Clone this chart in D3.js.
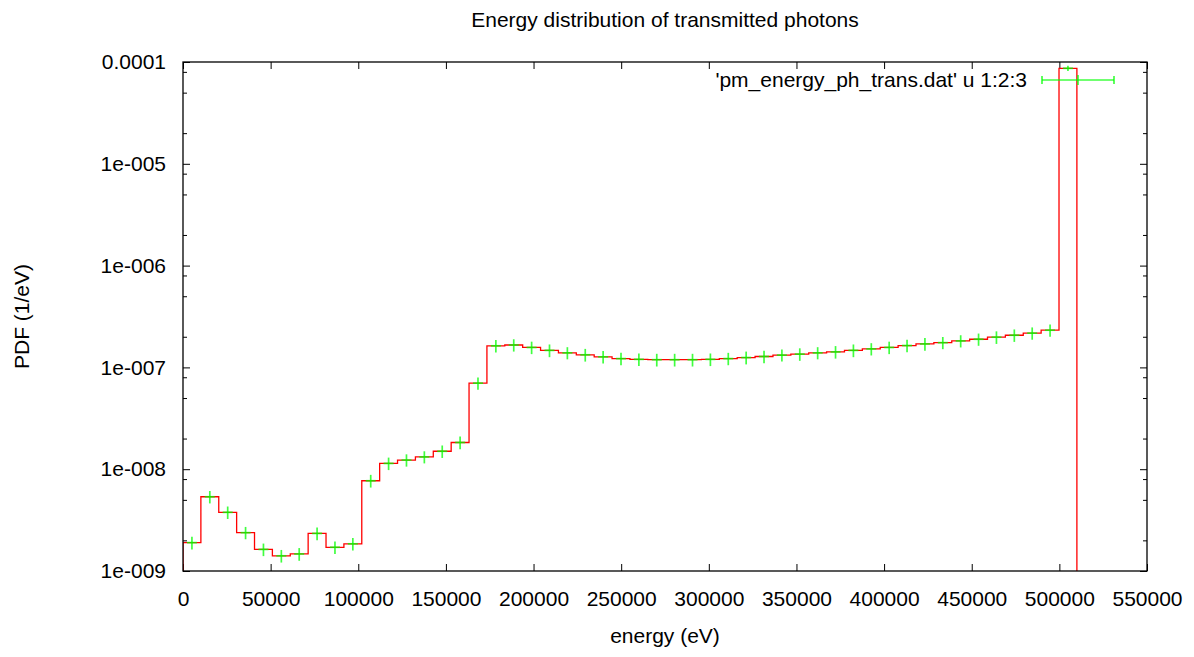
<!DOCTYPE html>
<html>
<head>
<meta charset="utf-8">
<script src="https://cdn.jsdelivr.net/npm/d3@7"></script>
<style>
  body { margin: 0; background: #fff; }
  svg text { font-family: "Liberation Sans", Arial, sans-serif; fill: #000; }
</style>
</head>
<body>
<svg id="chart"></svg>
<script>
// bin centres (eV), bin width 10200 eV
const energy = [5100, 15300, 25500, 35700, 45900, 56100, 66300, 76500, 86700, 96900,
  107100, 117300, 127500, 137700, 147900, 158100, 168300, 178500, 188700, 198900,
  209100, 219300, 229500, 239700, 249900, 260100, 270300, 280500, 290700, 300900,
  311100, 321300, 331500, 341700, 351900, 362100, 372300, 382500, 392700, 402900,
  413100, 423300, 433500, 443700, 453900, 464100, 474300, 484500, 494700, 504900];
const binWidth = 10200;

// PDF (1/eV)
const pdf = [1.90e-9, 5.36e-9, 3.77e-9, 2.38e-9, 1.63e-9, 1.41e-9, 1.47e-9, 2.34e-9, 1.71e-9, 1.85e-9,
  7.7e-9, 1.14e-8, 1.23e-8, 1.32e-8, 1.50e-8, 1.83e-8, 7.0e-8, 1.63e-7, 1.66e-7, 1.57e-7,
  1.47e-7, 1.39e-7, 1.33e-7, 1.27e-7, 1.22e-7, 1.20e-7, 1.19e-7, 1.19e-7, 1.19e-7, 1.20e-7,
  1.22e-7, 1.25e-7, 1.28e-7, 1.32e-7, 1.35e-7, 1.39e-7, 1.42e-7, 1.47e-7, 1.52e-7, 1.57e-7,
  1.64e-7, 1.70e-7, 1.75e-7, 1.82e-7, 1.89e-7, 1.98e-7, 2.07e-7, 2.17e-7, 2.32e-7, 8.67e-5];

// error column (3rd column)
const pdfErr = [2.7e-10, 7.5e-10, 5.3e-10, 3.3e-10, 2.3e-10, 2.0e-10, 2.1e-10, 3.3e-10, 2.4e-10, 2.6e-10,
  1.1e-9, 1.6e-9, 1.7e-9, 1.8e-9, 2.1e-9, 2.6e-9, 9.8e-9, 2.3e-8, 2.3e-8, 2.2e-8,
  2.1e-8, 1.9e-8, 1.9e-8, 1.8e-8, 1.7e-8, 1.7e-8, 1.7e-8, 1.7e-8, 1.7e-8, 1.7e-8,
  1.7e-8, 1.8e-8, 1.8e-8, 1.8e-8, 1.9e-8, 1.9e-8, 2.0e-8, 2.1e-8, 2.1e-8, 2.2e-8,
  2.3e-8, 2.4e-8, 2.4e-8, 2.5e-8, 2.6e-8, 2.8e-8, 2.9e-8, 3.0e-8, 3.2e-8, 5.0e-6];

const xTickValues = [0, 50000, 100000, 150000, 200000, 250000, 300000, 350000, 400000, 450000, 500000, 550000];
const yTickValues = [1e-9, 1e-8, 1e-7, 1e-6, 1e-5, 1e-4];
const yTickLabels = ["1e-009", "1e-008", "1e-007", "1e-006", "1e-005", "0.0001"];
const yMinorValues = [2e-9, 5e-9, 8e-9, 2e-8, 5e-8, 8e-8, 2e-7, 5e-7, 8e-7,
  2e-6, 5e-6, 8e-6, 2e-5, 5e-5, 8e-5];

const width = 1194;
const height = 657;
const margin = {top: 62, right: 47, bottom: 86, left: 183};
const fontSize = 21;

const svg = d3.select("#chart")
    .attr("width", width)
    .attr("height", height);

const x = d3.scaleLinear()
    .domain([0, 550000])
    .range([margin.left, width - margin.right]);

const y = d3.scaleLog()
    .domain([1e-9, 1e-4])
    .range([height - margin.bottom, margin.top]);

svg.append("defs").append("clipPath")
    .attr("id", "plot-clip")
    .append("rect")
    .attr("x", margin.left)
    .attr("y", margin.top)
    .attr("width", width - margin.left - margin.right)
    .attr("height", height - margin.top - margin.bottom);

// axes with inward ticks, mirrored on all four sides
function styleAxis(g) {
    g.select(".domain").remove();
    g.selectAll(".tick line").attr("stroke", "#000").attr("stroke-width", 1);
    g.selectAll(".tick text").style("font-size", fontSize + "px");
}

svg.append("g")
    .attr("transform", `translate(0,${height - margin.bottom})`)
    .call(d3.axisBottom(x).tickValues(xTickValues).tickSize(-7).tickPadding(20).tickFormat(d3.format("d")))
    .call(styleAxis);

svg.append("g")
    .attr("transform", `translate(0,${margin.top})`)
    .call(d3.axisTop(x).tickValues(xTickValues).tickSize(-7).tickFormat(""))
    .call(styleAxis);

svg.append("g")
    .attr("transform", `translate(${margin.left},0)`)
    .call(d3.axisLeft(y).tickValues(yTickValues).tickSize(-7).tickPadding(17)
        .tickFormat((d, i) => yTickLabels[i]))
    .call(styleAxis);

svg.append("g")
    .attr("transform", `translate(${margin.left},0)`)
    .call(d3.axisLeft(y).tickValues(yMinorValues).tickSize(-4).tickFormat(""))
    .call(styleAxis);

svg.append("g")
    .attr("transform", `translate(${width - margin.right},0)`)
    .call(d3.axisRight(y).tickValues(yTickValues).tickSize(-7).tickFormat(""))
    .call(styleAxis);

svg.append("g")
    .attr("transform", `translate(${width - margin.right},0)`)
    .call(d3.axisRight(y).tickValues(yMinorValues).tickSize(-4).tickFormat(""))
    .call(styleAxis);

// histogram steps: start and end drop below the axis
const lastEdge = energy[energy.length - 1] + binWidth / 2;
const stepPoints = [[0, 1e-10]]
    .concat(energy.map((e, i) => [e - binWidth / 2, pdf[i]]))
    .concat([[lastEdge, pdf[pdf.length - 1]], [lastEdge, 1e-10]]);

const stepLine = d3.line()
    .curve(d3.curveStepAfter)
    .x(d => x(d[0]))
    .y(d => y(d[1]));

const plot = svg.append("g").attr("clip-path", "url(#plot-clip)");

plot.append("path")
    .datum(stepPoints)
    .attr("d", stepLine)
    .attr("fill", "none")
    .attr("stroke", "#ff0000")
    .attr("stroke-width", 1.3);

// data points with y error bars
const pts = plot.append("g")
    .attr("stroke", "#00ff00")
    .attr("stroke-width", 1.7)
    .attr("stroke-opacity", 0.75);

const points = energy.map((e, i) => ({e: e, v: pdf[i], err: pdfErr[i]}));

pts.selectAll(".err")
    .data(points)
    .enter()
    .append("line")
    .attr("class", "err")
    .attr("x1", d => x(d.e))
    .attr("x2", d => x(d.e))
    .attr("y1", d => y(d.v - d.err))
    .attr("y2", d => y(d.v + d.err));

pts.selectAll(".cross")
    .data(points)
    .enter()
    .append("line")
    .attr("class", "cross")
    .attr("x1", d => x(d.e) - 5)
    .attr("x2", d => x(d.e) + 5)
    .attr("y1", d => y(d.v))
    .attr("y2", d => y(d.v));

// border
svg.append("rect")
    .attr("x", margin.left)
    .attr("y", margin.top)
    .attr("width", width - margin.left - margin.right)
    .attr("height", height - margin.top - margin.bottom)
    .attr("fill", "none")
    .attr("stroke", "#000")
    .attr("stroke-width", 1.3);

// key
const keyY = 80;
svg.append("text")
    .attr("x", 1027)
    .attr("y", keyY)
    .attr("dy", "0.35em")
    .attr("text-anchor", "end")
    .style("font-size", fontSize + "px")
    .text("'pm_energy_ph_trans.dat' u 1:2:3");

const key = svg.append("g")
    .attr("stroke", "#00ff00")
    .attr("stroke-width", 1.7)
    .attr("stroke-opacity", 0.75);
key.append("line").attr("x1", 1042).attr("x2", 1114).attr("y1", keyY).attr("y2", keyY);
key.append("line").attr("x1", 1042).attr("x2", 1042).attr("y1", keyY - 4).attr("y2", keyY + 4);
key.append("line").attr("x1", 1114).attr("x2", 1114).attr("y1", keyY - 4).attr("y2", keyY + 4);
key.append("line").attr("x1", 1078).attr("x2", 1078).attr("y1", keyY - 5).attr("y2", keyY + 5);

// titles
svg.append("text")
    .attr("x", (margin.left + width - margin.right) / 2)
    .attr("y", 20)
    .attr("dy", "0.35em")
    .attr("text-anchor", "middle")
    .style("font-size", fontSize + "px")
    .text("Energy distribution of transmitted photons");

svg.append("text")
    .attr("x", (margin.left + width - margin.right) / 2)
    .attr("y", 636)
    .attr("dy", "0.35em")
    .attr("text-anchor", "middle")
    .style("font-size", fontSize + "px")
    .text("energy (eV)");

svg.append("text")
    .attr("transform", `translate(22,${(margin.top + height - margin.bottom) / 2}) rotate(-90)`)
    .attr("dy", "0.35em")
    .attr("text-anchor", "middle")
    .style("font-size", fontSize + "px")
    .text("PDF (1/eV)");
</script>
</body>
</html>
